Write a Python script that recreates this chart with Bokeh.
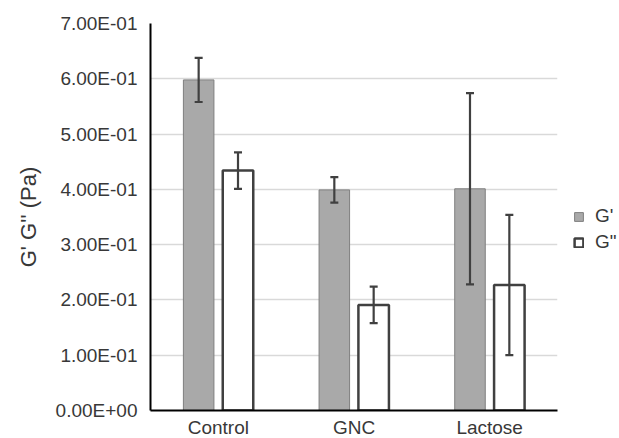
from bokeh.plotting import figure
from bokeh.models import (ColumnDataSource, FactorRange, Whisker, TeeHead,
                          FixedTicker, Legend, LegendItem)
from bokeh.transform import dodge
from bokeh.embed import file_html
from bokeh.resources import INLINE

categories = ["Control", "GNC", "Lactose"]
g_prime = [0.598, 0.399, 0.401]
g_prime_err = [0.040, 0.023, 0.173]
g_dprime = [0.434, 0.191, 0.227]
g_dprime_err = [0.033, 0.033, 0.127]
y_ticks = [0.0, 0.1, 0.2, 0.3, 0.4, 0.5, 0.6, 0.7]
y_tick_labels = ["0.00E+00", "1.00E-01", "2.00E-01", "3.00E-01",
                 "4.00E-01", "5.00E-01", "6.00E-01", "7.00E-01"]

FONT = "Liberation Sans"
TXT = "#383838"

src = ColumnDataSource(dict(
    cat=categories,
    gp=g_prime,
    gp_lo=[v - e for v, e in zip(g_prime, g_prime_err)],
    gp_hi=[v + e for v, e in zip(g_prime, g_prime_err)],
    gd=g_dprime,
    gd_lo=[v - e for v, e in zip(g_dprime, g_dprime_err)],
    gd_hi=[v + e for v, e in zip(g_dprime, g_dprime_err)],
))

p = figure(x_range=FactorRange(*categories, range_padding=0),
           y_range=(0, 0.7),
           frame_width=407, frame_height=387,
           min_border_left=150, min_border_right=62, min_border_top=23,
           min_border_bottom=0,
           output_backend="svg", toolbar_location=None)

off = 0.145
bw = 0.225
r1 = p.vbar(x=dodge("cat", -off, range=p.x_range), top="gp", width=bw, source=src,
            fill_color="#a9a9a9", line_color="#7f7f7f", line_width=1)
r2 = p.vbar(x=dodge("cat", off, range=p.x_range), top="gd", width=bw, source=src,
            fill_color="white", line_color="#404040", line_width=2.5)

for base, lo, hi in [(dodge("cat", -off, range=p.x_range), "gp_lo", "gp_hi"),
                     (dodge("cat", off, range=p.x_range), "gd_lo", "gd_hi")]:
    w = Whisker(base=base, lower=lo, upper=hi, source=src, level="overlay",
                line_color="#404040", line_width=2.2,
                upper_head=TeeHead(size=8, line_color="#404040", line_width=2.2),
                lower_head=TeeHead(size=8, line_color="#404040", line_width=2.2))
    p.add_layout(w)

legend = Legend(items=[LegendItem(label="G'", renderers=[r1]),
                       LegendItem(label="G\"", renderers=[r2])],
                location=(16, 157), orientation="vertical",
                padding=0, margin=0, spacing=4,
                glyph_width=11, glyph_height=11, label_height=18,
                label_standoff=11,
                label_text_font=FONT, label_text_font_size="19px",
                label_text_color=TXT,
                border_line_color=None, background_fill_alpha=0)
p.add_layout(legend, "right")

p.yaxis.ticker = FixedTicker(ticks=y_ticks)
p.yaxis.major_label_overrides = {t: l for t, l in zip(y_ticks, y_tick_labels)}
p.yaxis.axis_label = "G' G'' (Pa)"
p.yaxis.axis_label_text_font = FONT
p.yaxis.axis_label_text_font_size = "22px"
p.yaxis.axis_label_text_font_style = "normal"
p.yaxis.axis_label_text_color = TXT
p.yaxis.axis_label_standoff = 12

for ax in (p.xaxis, p.yaxis):
    ax.major_label_text_font = FONT
    ax.major_label_text_font_size = "19px"
    ax.major_label_text_color = TXT
    ax.major_tick_line_color = None
    ax.minor_tick_line_color = None
    ax.axis_line_color = "black"
    ax.axis_line_width = 2
p.yaxis.major_label_standoff = 7
p.xaxis.major_label_standoff = 0

p.xgrid.grid_line_color = None
p.ygrid.grid_line_color = "#d9d9d9"
p.ygrid.grid_line_width = 1.5
p.outline_line_color = None
p.background_fill_color = "white"
p.border_fill_color = "white"

open("out.html", "w").write(file_html(p, INLINE))
